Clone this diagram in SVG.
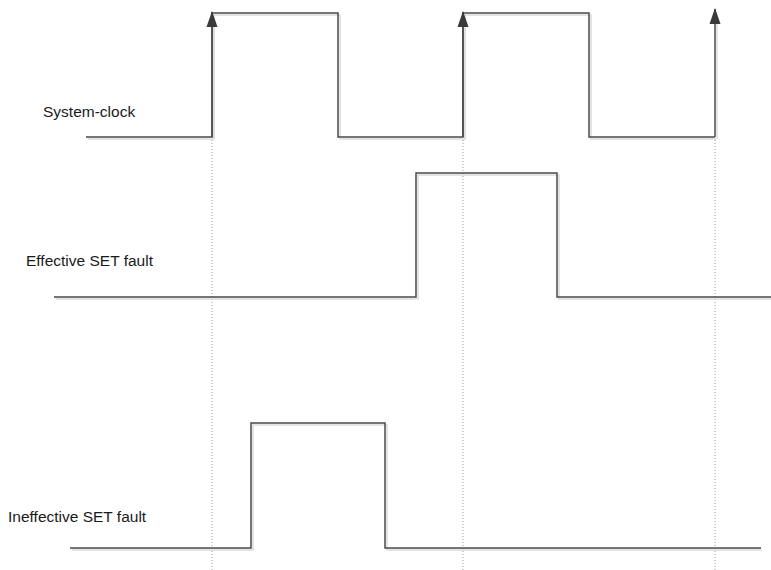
<svg xmlns="http://www.w3.org/2000/svg" width="771" height="570" viewBox="0 0 771 570">
<style>
.sig{fill:none;stroke:#4a4a4a;stroke-width:1.5}
.sh{fill:none;stroke:#dcdcdc;stroke-width:1.5}
.grid{fill:none;stroke:#9a9a9a;stroke-width:1;stroke-dasharray:1,2}
.lbl{font-family:"Liberation Sans",Arial,sans-serif;font-size:15.5px;fill:#1a1a1a}
</style>
<defs>
<marker id="ah" markerWidth="16" markerHeight="12" refX="15" refY="6" orient="auto" markerUnits="userSpaceOnUse" viewBox="0 0 16 12">
<path d="M0,0.5 L16,6 L0,11.5 Z" fill="#3a3a3a"/>
</marker>
</defs>
<rect width="771" height="570" fill="#fff"/>
<g id="guides">
<line class="grid" x1="212" y1="140" x2="212" y2="570"/>
<line class="grid" x1="463" y1="140" x2="463" y2="570"/>
<line class="grid" x1="715" y1="140" x2="715" y2="570"/>
</g>
<g id="system-clock">
<text class="lbl" x="43" y="117">System-clock</text>
<path class="sh" d="M88,139 H214 V15 H340 V139 H465 V15 H591 V139 H717"/>
<path class="sig" d="M86,137 H212 V13 H338 V137 H463 V13 H589 V137 H715"/>
</g>
<g id="effective-set-fault">
<text class="lbl" x="26" y="266">Effective SET fault</text>
<path class="sh" d="M56,299 H418 V175 H559 V299 H771"/>
<path class="sig" d="M54,297 H416 V173 H557 V297 H771"/>
</g>
<g id="ineffective-set-fault">
<text class="lbl" x="8" y="522">Ineffective SET fault</text>
<path class="sh" d="M72,550 H253 V425 H387 V550 H762"/>
<path class="sig" d="M70,548 H251 V423 H385 V548 H761"/>
</g>
<g id="connectors">
<line class="sh" x1="214" y1="139" x2="214" y2="28"/>
<line class="sh" x1="465" y1="139" x2="465" y2="28"/>
<line class="sh" x1="717" y1="139" x2="717" y2="24"/>
<line class="sig" x1="212" y1="137" x2="212" y2="12" marker-end="url(#ah)"/>
<line class="sig" x1="463" y1="137" x2="463" y2="12" marker-end="url(#ah)"/>
<line class="sig" x1="715" y1="137" x2="715" y2="9" marker-end="url(#ah)"/>
</g>
</svg>
